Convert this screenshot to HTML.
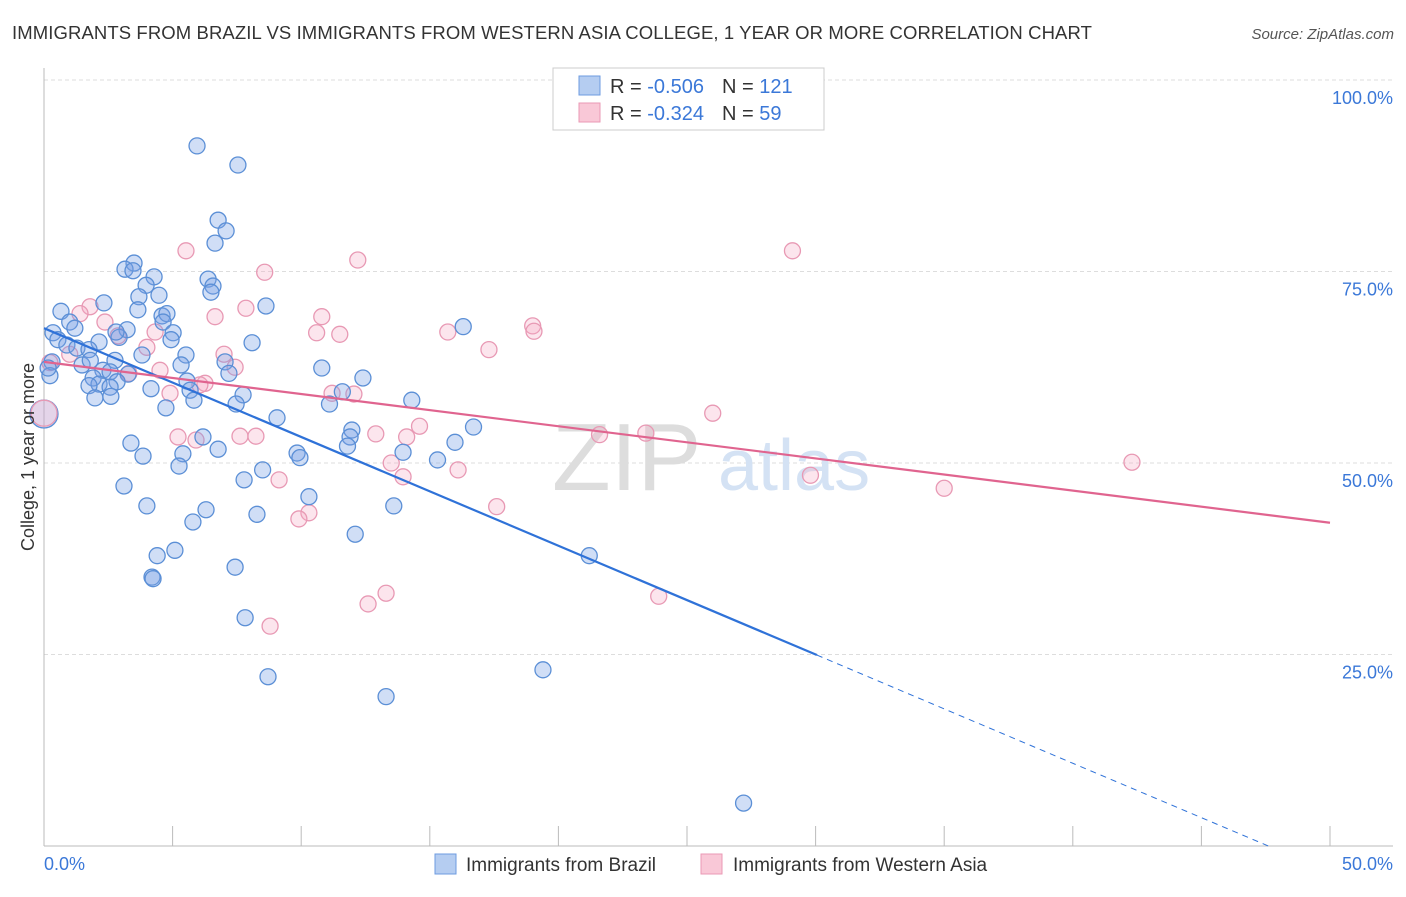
<!DOCTYPE html>
<html><head><meta charset="utf-8"><style>
body{margin:0;background:#fff;font-family:"Liberation Sans",sans-serif;}
svg text{font-family:"Liberation Sans",sans-serif;}
</style></head><body>
<svg id="chart" width="1406" height="892" viewBox="0 0 1406 892">
<text x="12" y="39" font-size="18.5" fill="#333" letter-spacing="0.1">IMMIGRANTS FROM BRAZIL VS IMMIGRANTS FROM WESTERN ASIA COLLEGE, 1 YEAR OR MORE CORRELATION CHART</text>
<text x="1394" y="39" font-size="15" fill="#555" font-style="italic" text-anchor="end">Source: ZipAtlas.com</text>
<g id="grid"></g>
<text x="552" y="490" font-size="96" fill="#ddd" font-family="Liberation Serif">ZIP</text>
<text x="718" y="490" font-size="72" fill="#d4e2f4">atlas</text>
<g id="marks"></g>
<text transform="translate(34,457) rotate(-90)" font-size="18" fill="#333" text-anchor="middle">College, 1 year or more</text>
<g>
<rect x="553" y="68" width="271" height="62" fill="#fff" stroke="#ccc"/>
<rect x="579" y="76" width="21" height="19" fill="#b5cdf1" stroke="#6d9be0"/>
<rect x="579" y="103" width="21" height="19" fill="#f9c8d7" stroke="#ea99b4"/>
<text x="610" y="93" font-size="20" fill="#333">R = <tspan fill="#3b78d8">-0.506</tspan><tspan dx="18">N = </tspan><tspan fill="#3b78d8">121</tspan></text>
<text x="610" y="120" font-size="20" fill="#333">R = <tspan fill="#3b78d8"> -0.324</tspan><tspan dx="18">N = </tspan><tspan fill="#3b78d8"> 59</tspan></text>
</g>
<g>
<rect x="435" y="854" width="21" height="20" fill="#b5cdf1" stroke="#6d9be0"/>
<text x="466" y="871" font-size="19" fill="#333">Immigrants from Brazil</text>
<rect x="701" y="854" width="21" height="20" fill="#f9c8d7" stroke="#ea99b4"/>
<text x="733" y="871" font-size="19" fill="#333">Immigrants from Western Asia</text>
</g>
</svg>
<script>
const blueX=[5.95,7.54,6.77,7.08,6.65,3.5,3.15,3.46,4.28,6.38,3.97,6.57,6.49,4.47,3.69,8.63,2.33,0.66,3.65,4.59,4.78,4.63,1.0,1.2,3.23,5.02,2.92,0.35,0.54,2.14,4.94,8.09,0.89,1.28,1.75,3.81,5.52,2.76,0.31,7.04,5.33,1.48,10.8,2.29,2.57,3.27,7.19,0.23,1.91,12.4,5.56,2.84,2.14,1.75,2.57,4.16,5.68,11.6,7.74,2.6,1.98,5.83,14.3,7.47,11.1,4.74,9.06,16.7,11.97,11.9,6.18,3.38,15.98,11.8,6.77,13.96,3.85,5.4,9.84,9.95,15.3,5.25,8.5,7.78,3.11,10.3,4.0,13.6,6.3,8.28,5.79,12.1,5.09,4.4,21.2,7.43,4.2,4.24,7.82,19.4,8.71,13.3,27.2,0.16,16.3,2.8,1.8];
const blueY=[91.4,88.9,81.7,80.3,78.7,76.1,75.3,75.1,74.3,74.0,73.2,73.1,72.3,71.9,71.7,70.5,70.9,69.8,70.0,69.2,69.5,68.4,68.4,67.6,67.4,67.0,66.4,67.0,66.1,65.8,66.1,65.7,65.4,65.0,64.8,64.1,64.1,63.4,63.2,63.2,62.8,62.8,62.4,62.1,61.9,61.6,61.7,61.4,61.1,61.1,60.7,60.6,60.3,60.1,59.9,59.7,59.5,59.3,58.9,58.7,58.5,58.2,58.2,57.7,57.7,57.2,55.9,54.7,54.3,53.4,53.4,52.6,52.7,52.2,51.8,51.4,50.9,51.2,51.3,50.7,50.4,49.6,49.1,47.8,47.0,45.6,44.4,44.4,43.9,43.3,42.3,40.7,38.6,37.9,37.9,36.4,35.1,34.9,29.8,23.0,22.1,19.5,5.6,62.4,67.8,67.1,63.4];
const pinkX=[5.52,29.1,12.2,8.58,7.85,1.79,1.4,6.65,10.8,2.37,10.6,4.32,19.0,19.05,15.7,11.5,2.88,4.0,17.3,1.0,7.0,7.43,4.51,3.3,6.26,4.9,11.2,12.05,26.0,14.6,14.1,12.9,21.6,23.4,7.62,8.24,5.21,5.91,13.5,42.3,16.1,13.96,29.8,9.14,35.0,17.6,10.3,9.91,23.9,13.3,12.6,8.79,0.23,6.06];
const pinkY=[77.7,77.7,76.5,74.9,70.2,70.4,69.5,69.1,69.1,68.4,67.0,67.1,67.9,67.2,67.1,66.8,66.6,65.1,64.8,64.2,64.2,62.5,62.1,61.7,60.4,59.1,59.1,59.0,56.5,54.8,53.4,53.8,53.7,53.9,53.5,53.5,53.4,53.0,50.0,50.1,49.1,48.2,48.4,47.8,46.7,44.3,43.5,42.7,32.6,33.0,31.6,28.7,63.1,60.2];
const bigX=[0,0];const bigY=[56.4,56.5];
const blueLine=[67.6,-1.42];const pinkLine=[63.2,-0.42];
const xTicks=["0.0%","50.0%"];const yTicks=[25,50,75,100];const yTickLabels=["25.0%","50.0%","75.0%","100.0%"];
const NS="http://www.w3.org/2000/svg";
const sx=v=>44+v*25.72, sy=v=>846-v*7.66;
function mk(tag,at,par){const e=document.createElementNS(NS,tag);for(const k in at)e.setAttribute(k,at[k]);par.appendChild(e);return e;}
const g=document.getElementById('grid'),m=document.getElementById('marks');
yTicks.forEach((t,i)=>{
 const l=mk('line',{x1:44,x2:1393,y1:sy(t),y2:sy(t),stroke:'#ddd','stroke-dasharray':'4,3'},g);
 
 
 const tx=mk('text',{x:1393,y:sy(t)+24,'font-size':18,fill:'#3b78d8','text-anchor':'end'},g);tx.textContent=yTickLabels[i];
 
 
});
const ax=mk('line',{x1:44,x2:1393,y1:846,y2:846,stroke:'#bbb'},g);


const ay=mk('line',{x1:44,x2:44,y1:68,y2:846,stroke:'#bbb'},g);


for(let i=0;i<=10;i++){const t=mk('line',{x1:sx(i*5),x2:sx(i*5),y1:826,y2:846,stroke:'#bbb'},g);
 
 }
[[0,'start'],[50,'end']].forEach((p,i)=>{const t=mk('text',{x:i?1393:44,y:870,'font-size':18,fill:'#3b78d8','text-anchor':p[1]},g);t.textContent=xTicks[i];
 
 });
function dot(x,y,r,c,f,name){const d=mk('circle',{cx:sx(x),cy:sy(y),r:r,fill:f,stroke:c,'stroke-width':1.3},m);
 
 }
pinkX.forEach((x,i)=>dot(x,pinkY[i],8,'#e899b4','rgba(245,170,195,0.3)','point-western-asia'));
blueX.forEach((x,i)=>dot(x,blueY[i],8,'#5b8fd6','rgba(120,160,230,0.35)','point-brazil'));
dot(bigX[0],bigY[0],14,'#5b8fd6','rgba(120,160,230,0.25)','point-brazil');
dot(bigX[1],bigY[1],13,'#e899b4','rgba(245,170,195,0.3)','point-western-asia');
const bEnd=30.05,bZero=-blueLine[0]/blueLine[1];
const l1=mk('line',{x1:sx(0),y1:sy(blueLine[0]),x2:sx(bEnd),y2:sy(blueLine[0]+blueLine[1]*bEnd),stroke:'#2f72d8','stroke-width':2.2},m);


const l2=mk('line',{x1:sx(bEnd),y1:sy(blueLine[0]+blueLine[1]*bEnd),x2:sx(bZero),y2:sy(0),stroke:'#2f72d8','stroke-width':1,'stroke-dasharray':'6,5'},m);


const l3=mk('line',{x1:sx(0),y1:sy(pinkLine[0]),x2:sx(50),y2:sy(pinkLine[0]+pinkLine[1]*50),stroke:'#e0648f','stroke-width':2.2},m);


</script>
</body></html>
